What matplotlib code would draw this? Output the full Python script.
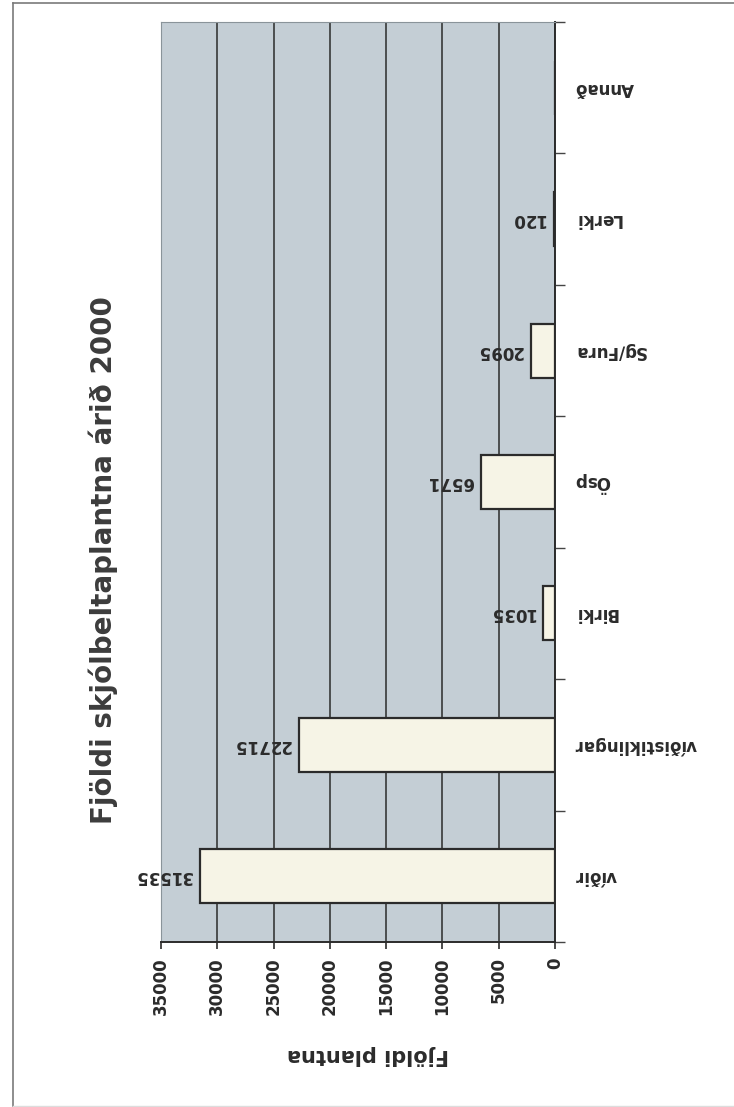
import numpy as np
import matplotlib
matplotlib.use("Agg")
import matplotlib.pyplot as plt
from matplotlib.lines import Line2D

# data, bottom category first
categories = ["víðir", "víðistiklingar", "Birki", "Ösp", "Sg/Fura", "Lerki", "Annað"]
counts = [31535, 22715, 1035, 6571, 2095, 120, 0]
value_ticks = [0, 5000, 10000, 15000, 20000, 25000, 30000, 35000]

W, H = 734, 1107
fig = plt.figure(figsize=(W / 100, H / 100), dpi=100)
fig.patch.set_facecolor("white")

# plot area in pixel coords
left, right, top, bottom = 161, 555, 22, 942
ax = fig.add_axes([left / W, 1 - bottom / H, (right - left) / W, (bottom - top) / H])
ax.set_facecolor("#c4ced5")

y = np.arange(len(categories))
ax.barh(y, counts, height=0.41, color="#f6f4e6", edgecolor="#2b2b2b", linewidth=1.6, zorder=3)

ax.set_xlim(35000, 0)
ax.set_ylim(-0.5, len(categories) - 0.5)

ax.set_xticks(value_ticks)
ax.set_xticklabels([str(v) for v in value_ticks], rotation=90, va="top",
                   fontsize=12, fontweight="bold", color="#2b2b2b")
ax.tick_params(axis="x", direction="out", length=5, width=1.2, pad=6, color="#2b2b2b")
ax.xaxis.grid(True, color="#2b2b2b", linewidth=1.1, zorder=1)
ax.set_axisbelow(True)

ax.yaxis.tick_right()
ax.set_yticks(y)
ax.set_yticklabels(categories, rotation=180, ha="left", va="center",
                   fontsize=12, fontweight="bold", color="#2b2b2b")
ax.tick_params(axis="y", which="major", length=0, pad=14)
ax.set_yticks(np.arange(-0.5, len(categories)), minor=True)
ax.tick_params(axis="y", which="minor", direction="out", length=7, width=1.0, color="#444444")

for s in ["top", "left"]:
    ax.spines[s].set_color("#8a949a")
    ax.spines[s].set_linewidth(0.8)
for s in ["right", "bottom"]:
    ax.spines[s].set_color("#2b2b2b")
    ax.spines[s].set_linewidth(1.4)

# value labels beside bars
for yi, v in zip(y, counts):
    if v > 0:
        ax.annotate(str(v), xy=(v, yi), xytext=(-6, 0), textcoords="offset points",
                    ha="right", va="center", rotation=180,
                    fontsize=12, fontweight="bold", color="#2b2b2b", zorder=4)

# axis label and title
fig.text(368 / W, 1 - 1055 / H, "Fjöldi plantna", rotation=180, ha="center", va="center",
         fontsize=15, fontweight="bold", color="#2b2b2b")
fig.text(103 / W, 1 - 560 / H, "Fjöldi skjólbeltaplantna árið 2000", rotation=90,
         ha="center", va="center", fontsize=20, fontweight="bold", color="#3c3c3c")

# page frame
fig.add_artist(Line2D([13 / W, 13 / W], [1 - 3 / H, 1 - 1106 / H], color="#7a7a7a", lw=1.2,
                      transform=fig.transFigure))
fig.add_artist(Line2D([13 / W, 1.0], [1 - 3 / H, 1 - 3 / H], color="#7a7a7a", lw=1.2,
                      transform=fig.transFigure))
fig.add_artist(Line2D([13 / W, 1.0], [1 - 1106 / H, 1 - 1106 / H], color="#dddddd", lw=1.0,
                      transform=fig.transFigure))

fig.savefig("out.png", dpi=100)
